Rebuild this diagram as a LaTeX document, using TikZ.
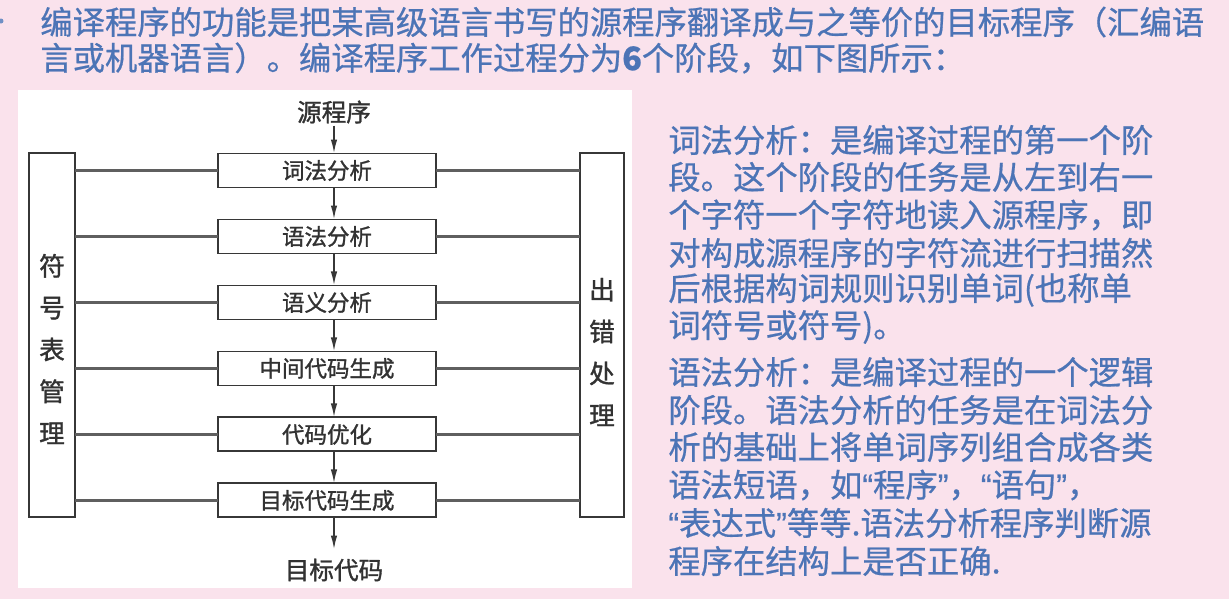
\documentclass[tikz,border=0pt]{standalone}
\usepackage{fontspec}
\newfontfamily\cjk[FakeBold=0.6]{Noto Sans CJK SC}
\newfontfamily\cjkdiag[FakeBold=1.2]{Noto Sans CJK SC}
\newfontfamily\latinq[FakeBold=0.6]{Liberation Sans}
\usetikzlibrary{arrows.meta, positioning}
\definecolor{slidepink}{RGB}{250,226,236}
\definecolor{textblue}{RGB}{76,116,182}
\definecolor{boxgray}{RGB}{55,55,55}
\definecolor{linkgray}{RGB}{95,95,95}
\definecolor{diagtext}{RGB}{50,50,50}
\newcommand{\slidefont}{\cjk\fontsize{18.4}{22}\selectfont}
\newcommand{\stagefont}{\cjkdiag\fontsize{12.8}{14}\selectfont}
\newcommand{\termfont}{\cjkdiag\fontsize{14}{16}\selectfont}
\newcommand{\vertfont}{\cjkdiag\fontsize{14.6}{23.8}\selectfont}
\newcommand{\openq}{{\latinq “}}
\newcommand{\closeq}{{\latinq ”}}

\begin{document}
\begin{tikzpicture}[x=0.02cm, y=-0.02cm, >={Latex[length=2.8mm, width=1.3mm]},
    stage/.style={draw=boxgray, line width=1.1pt, fill=white, minimum width=4.36cm, minimum height=0.68cm, inner sep=0pt, outer sep=0pt, font=\stagefont, text=diagtext},
    sidebox/.style={draw=boxgray, line width=1.1pt, fill=white, minimum width=0.92cm, minimum height=7.28cm, inner sep=0pt, outer sep=0pt},
    vlabel/.style={align=center, inner sep=0pt, font=\vertfont, text=diagtext},
    link/.style={draw=linkgray, line width=1.3pt},
    flow/.style={->, draw=boxgray, line width=1pt},
    slide/.style={anchor=west, inner sep=0pt, text=textblue, font=\slidefont}]

    % slide background and white panel
    \fill[slidepink] (0,0) rectangle (1229,599);
    \useasboundingbox (0,0) rectangle (1229,599);
    \fill[white] (18,90) rectangle (632,588);

    % heading
    \fill[textblue!80] (1,21) circle (2.5);
    \node[slide] (intro1) at (40,22) {编译程序的功能是把某高级语言书写的源程序翻译成与之等价的目标程序（汇编语};
    \node[slide] (intro2) at (40,58) {言或机器语言）。编译程序工作过程分为\textbf{6}个阶段，如下图所示：};

    % the six stages
    \node[stage] (lex) at (327,170.5) {词法分析};
    \node[stage, below=0.64cm of lex] (syn) {语法分析};
    \node[stage, below=0.64cm of syn] (sem) {语义分析};
    \node[stage, below=0.64cm of sem] (mid) {中间代码生成};
    \node[stage, below=0.64cm of mid] (opt) {代码优化};
    \node[stage, below=0.64cm of opt] (gen) {目标代码生成};

    \node[font=\termfont, text=diagtext, inner sep=1pt] (src) at (334,112) {源程序};
    \node[font=\termfont, text=diagtext, inner sep=5pt] (dst) at (334,570) {目标代码};

    % side columns
    \node[sidebox] (symtab) at (52,335) {};
    \node[sidebox, minimum width=0.88cm] (errh) at (602,335) {};
    \node[vlabel] (symtxt) at (52,349) {符\\号\\表\\管\\理};
    \node[vlabel] (errtxt) at (602,352) {出\\错\\处\\理};

    % connectors
    \draw[flow] (src) -- (src |- lex.north);
    \foreach \a/\b in {lex/syn, syn/sem, sem/mid, mid/opt, opt/gen}
        \draw[flow] (\a.south -| src) -- (\b.north -| src);
    \draw[flow] (gen.south -| src) -- (dst.north);
    \foreach \s in {lex, syn, sem, mid, opt, gen} {
        \draw[link] (symtab.east |- \s.west) -- (\s.west);
        \draw[link] (\s.east) -- (errh.west |- \s.east);
    }

    % explanation on the right
    \node[slide] (d1) at (668,140) {词法分析：是编译过程的第一个阶};
    \node[slide] (d2) at (668,177) {段。这个阶段的任务是从左到右一};
    \node[slide] (d3) at (668,215) {个字符一个字符地读入源程序，即};
    \node[slide] (d4) at (668,253) {对构成源程序的字符流进行扫描然};
    \node[slide] (d5) at (668,290) {后根据构词规则识别单词(也称单};
    \node[slide] (d6) at (668,327) {词符号或符号)。};
    \node[slide] (d7) at (668,372) {语法分析：是编译过程的一个逻辑};
    \node[slide] (d8) at (668,410) {阶段。语法分析的任务是在词法分};
    \node[slide] (d9) at (668,447) {析的基础上将单词序列组合成各类};
    \node[slide] (d10) at (668,485) {语法短语，如\openq 程序\closeq ，\openq 语句\closeq ，};
    \node[slide] (d11) at (668,523) {\openq 表达式\closeq 等等.语法分析程序判断源};
    \node[slide] (d12) at (668,561) {程序在结构上是否正确.};
\end{tikzpicture}
\end{document}
